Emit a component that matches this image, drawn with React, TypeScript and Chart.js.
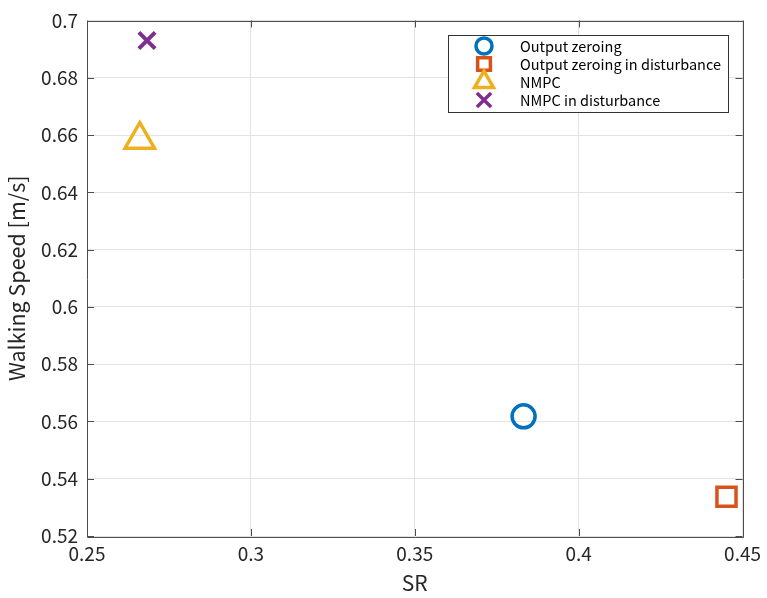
import React, { useEffect, useRef } from "react";
import { Chart, registerables } from "chart.js";
import { drawPoint } from "chart.js/helpers";

Chart.register(...registerables);

const seriesNames = ["Output zeroing", "Output zeroing in disturbance", "NMPC", "NMPC in disturbance"];
const seriesSR = [0.3832, 0.4451, 0.2661, 0.2683];
const seriesSpeed = [0.5618, 0.5337, 0.6584, 0.693];
const seriesColors = ["#0072BD", "#D95319", "#EDB120", "#7E2F8E"];
const seriesStyles = ["circle", "rect", "triangle", "crossRot"];
const seriesRadius = [11.5, 13.5, 17, 11.5];
const legendRadius = [8, 9, 11, 10];

const xTicks = [0.25, 0.3, 0.35, 0.4, 0.45];
const xTickLabels = ["0.25", "0.3", "0.35", "0.4", "0.45"];
const yTicks = [0.52, 0.54, 0.56, 0.58, 0.6, 0.62, 0.64, 0.66, 0.68, 0.7];
const yTickLabels = ["0.52", "0.54", "0.56", "0.58", "0.6", "0.62", "0.64", "0.66", "0.68", "0.7"];

const FONT = "'Noto Sans CJK JP', 'Noto Sans', sans-serif";

export default function App() {
  const ref = useRef<HTMLCanvasElement | null>(null);

  useEffect(() => {
    const canvas = ref.current;
    if (!canvas) return;

    const boxPlugin = {
      id: "boxPlugin",
      afterDatasetsDraw(chart: any) {
        const { ctx, chartArea } = chart;
        const { left, right, top, bottom } = chartArea;
        const xs = chart.scales.x;
        const ys = chart.scales.y;
        ctx.save();
        ctx.strokeStyle = "#4d4d4d";
        ctx.lineWidth = 1;
        ctx.beginPath();
        ctx.rect(Math.round(left) + 0.5, Math.round(top) + 0.5, Math.round(right - left), Math.round(bottom - top));
        ctx.stroke();
        const tl = 7;
        ctx.beginPath();
        xTicks.forEach((v) => {
          const px = Math.round(xs.getPixelForValue(v)) + 0.5;
          ctx.moveTo(px, bottom);
          ctx.lineTo(px, bottom - tl);
          ctx.moveTo(px, top);
          ctx.lineTo(px, top + tl);
        });
        yTicks.forEach((v) => {
          const py = Math.round(ys.getPixelForValue(v)) + 0.5;
          ctx.moveTo(left, py);
          ctx.lineTo(left + tl, py);
          ctx.moveTo(right, py);
          ctx.lineTo(right - tl, py);
        });
        ctx.stroke();
        ctx.restore();
      },
      afterDraw(chart: any) {
        const { ctx } = chart;
        ctx.save();
        const bx = 448.5, by = 35.5, bw = 280, bh = 77;
        ctx.fillStyle = "#ffffff";
        ctx.fillRect(bx, by, bw, bh);
        ctx.strokeStyle = "#333333";
        ctx.lineWidth = 1;
        ctx.strokeRect(bx, by, bw, bh);
        const rowY = [46, 64, 82, 100];
        seriesNames.forEach((name, i) => {
          ctx.fillStyle = "#ffffff";
          ctx.strokeStyle = seriesColors[i];
          ctx.lineWidth = 3.5;
          drawPoint(ctx, { pointStyle: seriesStyles[i] as any, radius: legendRadius[i], borderWidth: 3.5, rotation: 0 }, 484, rowY[i]);
          ctx.fillStyle = "#000000";
          ctx.font = `14.5px ${FONT}`;
          ctx.textBaseline = "middle";
          ctx.textAlign = "left";
          ctx.fillText(name, 520, rowY[i]);
        });
        ctx.restore();
      },
    };

    const chart = new Chart(canvas, {
      type: "scatter",
      data: {
        datasets: seriesNames.map((name, i) => ({
          label: name,
          data: [{ x: seriesSR[i], y: seriesSpeed[i] }],
          pointStyle: seriesStyles[i] as any,
          pointRadius: seriesRadius[i],
          pointHoverRadius: seriesRadius[i],
          pointBorderWidth: seriesStyles[i] === "crossRot" ? 4 : 3.5,
          borderColor: seriesColors[i],
          backgroundColor: "rgba(0,0,0,0)",
        })),
      },
      plugins: [boxPlugin],
      options: {
        responsive: false,
        animation: false,
        devicePixelRatio: 1,
        layout: { padding: { top: 19, right: 23, left: 0, bottom: 0 } },
        plugins: {
          legend: { display: false },
          tooltip: { enabled: false },
        },
        scales: {
          x: {
            type: "linear",
            min: 0.25,
            max: 0.45,
            afterBuildTicks: (s: any) => {
              s.ticks = xTicks.map((v) => ({ value: v }));
            },
            afterFit: (s: any) => {
              s.height = 62;
            },
            ticks: {
              padding: 6,
              color: "#262626",
              font: { family: FONT, size: 19 },
              maxRotation: 0,
              callback: (v: any) => {
                const i = xTicks.findIndex((t) => Math.abs(t - Number(v)) < 1e-9);
                return i >= 0 ? xTickLabels[i] : "";
              },
            },
            grid: { color: "#e3e3e3", drawTicks: false, lineWidth: 1 },
            border: { display: false },
            title: {
              display: true,
              text: "SR",
              color: "#262626",
              font: { family: FONT, size: 21 },
              padding: { top: 0, bottom: 2 },
            },
          },
          y: {
            type: "linear",
            min: 0.52,
            max: 0.7,
            afterBuildTicks: (s: any) => {
              s.ticks = yTicks.map((v) => ({ value: v }));
            },
            afterFit: (s: any) => {
              s.width = 87;
            },
            ticks: {
              padding: 9,
              color: "#262626",
              font: { family: FONT, size: 19 },
              callback: (v: any) => {
                const i = yTicks.findIndex((t) => Math.abs(t - Number(v)) < 1e-9);
                return i >= 0 ? yTickLabels[i] : "";
              },
            },
            grid: { color: "#e3e3e3", drawTicks: false, lineWidth: 1 },
            border: { display: false },
            title: {
              display: true,
              text: "Walking Speed [m/s]",
              color: "#262626",
              font: { family: FONT, size: 21.5 },
              padding: { top: 4, bottom: 0 },
            },
          },
        },
      },
    });

    return () => {
      chart.destroy();
    };
  }, []);

  return (
    <div style={{ position: "fixed", left: 0, top: 0, width: 767, height: 598, background: "#ffffff" }}>
      <canvas ref={ref} width={767} height={598} style={{ display: "block" }} />
    </div>
  );
}
